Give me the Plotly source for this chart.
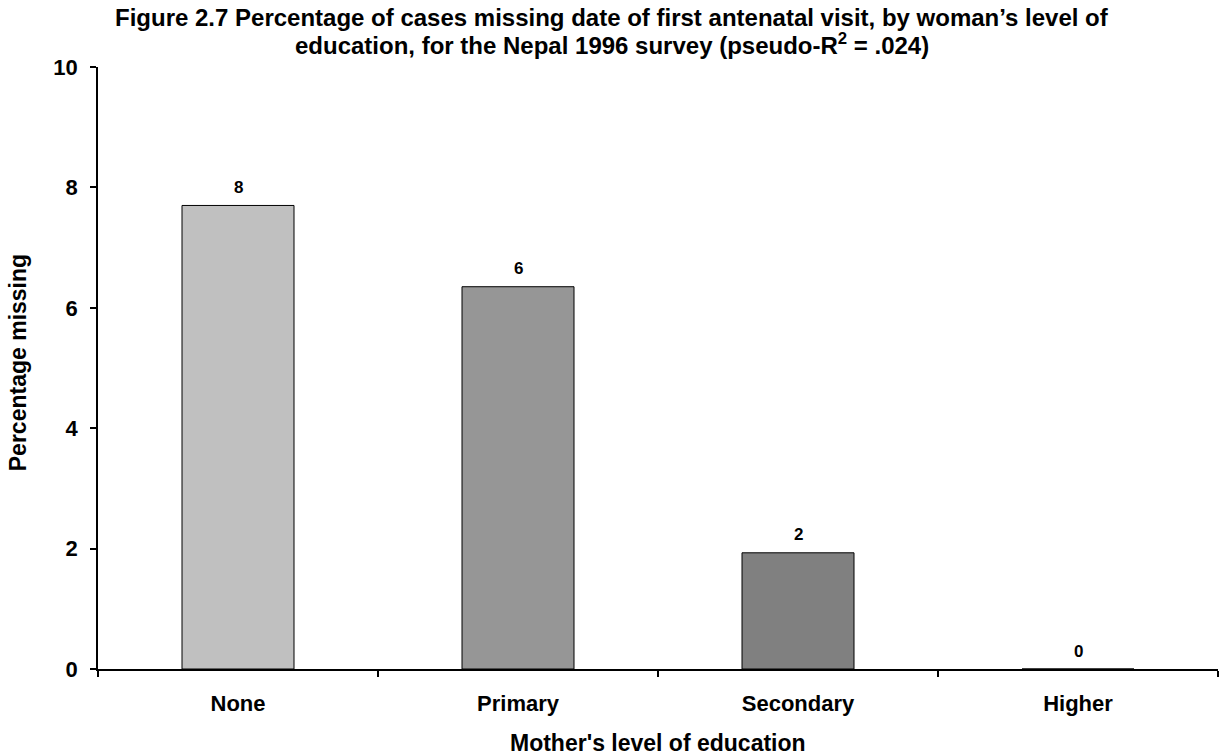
import plotly.graph_objects as go

categories = ["None", "Primary", "Secondary", "Higher"]
values = [7.70, 6.35, 1.93, 0.0]
value_labels = ["8", "6", "2", "0"]
bar_colors = ["#C0C0C0", "#969696", "#808080", "#606060"]
y_ticks = [0, 2, 4, 6, 8, 10]
title_lines = [
    "Figure 2.7 Percentage of cases missing date of first antenatal visit, by woman’s level of",
    "education, for the Nepal 1996 survey (pseudo-R<sup>2</sup> = .024)",
]

font_family = "Arial, Liberation Sans, sans-serif"

fig = go.Figure()
fig.add_trace(go.Bar(
    x=categories,
    y=values,
    marker=dict(color=bar_colors, line=dict(color="#000000", width=1)),
    width=0.4,
    showlegend=False,
    hoverinfo="x+y",
))

fig.update_layout(
    width=1224, height=756,
    paper_bgcolor="white", plot_bgcolor="white",
    margin=dict(l=98, r=6, t=67, b=87),
    font=dict(family=font_family, color="black"),
    bargap=0.6,
)

# Value labels above bars
for cat, val, lab in zip(categories, values, value_labels):
    fig.add_annotation(x=cat, y=val, text=f"<b>{lab}</b>", showarrow=False,
                       xanchor="center", yanchor="middle", yshift=18,
                       font=dict(family=font_family, size=17, color="black"))

# Title lines
fig.add_annotation(text=f"<b>{title_lines[0]}</b>", xref="paper", yref="paper",
                   x=0.459, y=1.083, xanchor="center", yanchor="middle", showarrow=False,
                   font=dict(family=font_family, size=24, color="black"))
fig.add_annotation(text=f"<b>{title_lines[1]}</b>", xref="paper", yref="paper",
                   x=0.459, y=1.038, xanchor="center", yanchor="middle", showarrow=False,
                   font=dict(family=font_family, size=24, color="black"))
# Axis titles
fig.add_annotation(text="<b>Percentage missing</b>", xref="paper", yref="paper",
                   x=-0.0714, y=0.508, xanchor="center", yanchor="middle", showarrow=False,
                   textangle=-90, font=dict(family=font_family, size=23, color="black"))
fig.add_annotation(text="<b>Mother's level of education</b>", xref="paper", yref="paper",
                   x=0.5, y=-0.123, xanchor="center", yanchor="middle", showarrow=False,
                   font=dict(family=font_family, size=23, color="black"))

fig.update_xaxes(
    automargin=False,
    showline=True, linecolor="black", linewidth=1.5,
    ticks="outside", ticklen=6, tickcolor="black", tickwidth=1.5,
    tickson="boundaries",
    ticklabelstandoff=14,
    tickfont=dict(family=font_family, size=22, color="black", weight="bold"),
    showgrid=False,
)
fig.update_yaxes(
    automargin=False,
    range=[0, 10], tickvals=y_ticks,
    showline=True, linecolor="black", linewidth=1.5,
    ticks="outside", ticklen=6, tickcolor="black", tickwidth=1.5,
    ticklabelstandoff=8,
    tickfont=dict(family=font_family, size=22, color="black", weight="bold"),
    showgrid=False, zeroline=False,
)

fig.write_html("out.html", config={"displayModeBar": False},
               post_script="document.body.style.margin='0';")
